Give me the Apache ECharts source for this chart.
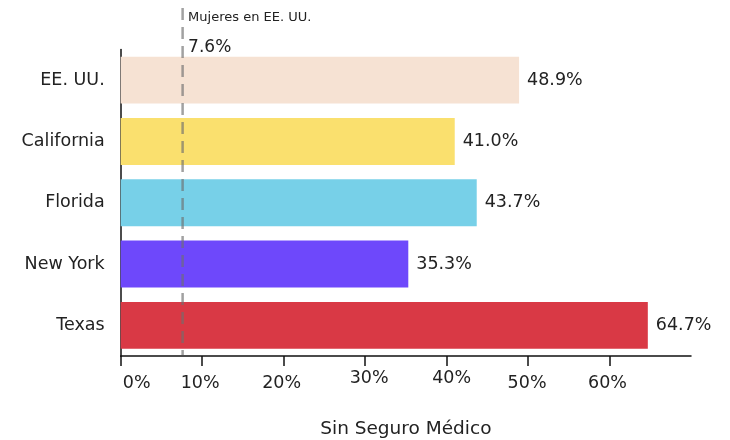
<!DOCTYPE html>
<html>
<head>
<meta charset="utf-8">
<script src="https://cdn.jsdelivr.net/npm/echarts@6/dist/echarts.min.js"></script>
<style>html,body{margin:0;padding:0;background:#fff}#c{width:730px;height:440px}</style>
</head>
<body>
<div id="c"></div>
<script>
const categories = ['EE. UU.', 'California', 'Florida', 'New York', 'Texas'];
const values = [48.9, 41.0, 43.7, 35.3, 64.7];
const barColors = ['#f6e2d3', '#fae06e', '#77d0e8', '#6e48fb', '#d93945'];
const refValue = 7.6;
const refName = 'Mujeres en EE. UU.';
const axisTitle = 'Sin Seguro Médico';

const font = 'DejaVu Sans';

// per-label nudges of the x tick labels, as in the reference
const tickNudge = [[16, 0], [-2, 0], [-2, 0], [4, -5], [5, -5], [-1, 0], [-2, 0]];
const rich = {};
tickNudge.forEach(function (n, i) {
  const dx = n[0], dy = n[1];
  rich['t' + i] = {
    fontSize: 17.5, color: '#222', fontFamily: font,
    padding: [5 + dy, dx < 0 ? -2 * dx : 0, 0, dx > 0 ? 2 * dx : 0]
  };
});

const chart = echarts.init(document.getElementById('c'));
chart.setOption({
  backgroundColor: '#fff',
  animation: false,
  textStyle: { fontFamily: font },
  grid: [
    { left: 120.7, right: 39, top: 49.5, bottom: 84, outerBoundsMode: 'none', containLabel: false },
    { left: 120.7, right: 39, top: 8, bottom: 85, outerBoundsMode: 'none', containLabel: false }
  ],
  xAxis: [{
    type: 'value', gridIndex: 0, min: 0, max: 70, interval: 10,
    splitLine: { show: false },
    axisLine: { show: true, lineStyle: { color: '#111', width: 1.5 } },
    axisTick: { show: true, length: 10, lineStyle: { color: '#111', width: 1.5 } },
    axisLabel: {
      margin: 13, showMaxLabel: false,
      formatter: function (v, i) { return '{t' + i + '|' + v + '%}'; },
      rich: rich
    },
    name: axisTitle, nameLocation: 'middle', nameGap: 64,
    nameTextStyle: { fontSize: 18.5, color: '#222', fontFamily: font }
  }, {
    type: 'value', gridIndex: 1, min: 0, max: 70, show: false
  }],
  yAxis: [{
    type: 'category', gridIndex: 0, data: categories, inverse: true,
    axisLine: { show: true, lineStyle: { color: '#111', width: 1.5 } },
    axisTick: { show: false },
    axisLabel: { fontSize: 17.5, color: '#222', margin: 16, fontFamily: font }
  }, {
    type: 'value', gridIndex: 1, min: 0, max: 1, show: false
  }],
  series: [{
    type: 'bar', xAxisIndex: 0, yAxisIndex: 0,
    barCategoryGap: '23.5%',
    data: values.map(function (v, i) { return { value: v, itemStyle: { color: barColors[i] } }; }),
    label: {
      show: true, position: 'right', distance: 8, fontSize: 17.5, color: '#222', fontFamily: font,
      formatter: function (p) { return p.value.toFixed(1) + '%'; }
    }
  }, {
    type: 'line', xAxisIndex: 1, yAxisIndex: 1,
    symbol: 'circle', symbolSize: 1,
    itemStyle: { color: 'rgba(0,0,0,0)' },
    lineStyle: { color: 'rgba(110,110,110,0.65)', width: 2.5, type: [12, 7] },
    z: 5,
    data: [
      { value: [refValue, 1], label: {
        show: true, position: 'right', distance: 5, verticalAlign: 'top',
        formatter: '{a|' + refName + '}\n{b|' + refValue + '%}',
        rich: {
          a: { fontSize: 13, color: '#222', lineHeight: 20, fontFamily: font },
          b: { fontSize: 17, color: '#222', lineHeight: 40, fontFamily: font }
        }
      } },
      [refValue, 0]
    ]
  }]
});
</script>
</body>
</html>
